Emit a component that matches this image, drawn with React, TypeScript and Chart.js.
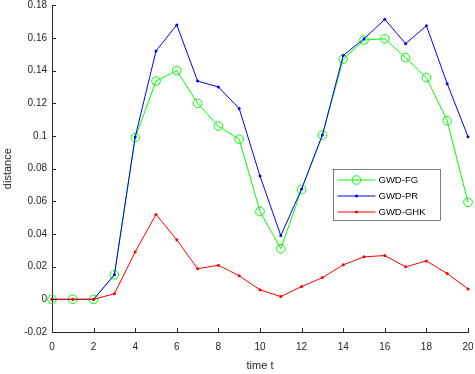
import React, { useEffect, useRef } from 'react';
import { Chart, registerables } from 'chart.js';

Chart.register(...registerables);

// ---- data ----
const timeSteps = [0, 1, 2, 3, 4, 5, 6, 7, 8, 9, 10, 11, 12, 13, 14, 15, 16, 17, 18, 19, 20];
const gwdFG = [0, 0, 0, 0.015, 0.099, 0.1336, 0.140, 0.120, 0.106, 0.098, 0.0537, 0.031, 0.0672, 0.1006, 0.147, 0.1587, 0.1595, 0.148, 0.1357, 0.1094, 0.0594];
const gwdPR = [0, 0, 0, 0.015, 0.0994, 0.152, 0.168, 0.1336, 0.130, 0.1168, 0.0755, 0.039, 0.0676, 0.1006, 0.1493, 0.1595, 0.1714, 0.1565, 0.1675, 0.132, 0.0996];
const gwdGHK = [0, 0, 0, 0.0034, 0.029, 0.052, 0.0364, 0.0187, 0.0209, 0.0144, 0.0058, 0.0017, 0.0078, 0.0133, 0.0211, 0.026, 0.0268, 0.0199, 0.0235, 0.0158, 0.0064];
const seriesLabels = ['GWD-FG', 'GWD-PR', 'GWD-GHK'];
const xTickValues = [0, 2, 4, 6, 8, 10, 12, 14, 16, 18, 20];
const yTickValues = [-0.02, 0, 0.02, 0.04, 0.06, 0.08, 0.1, 0.12, 0.14, 0.16, 0.18];
const xTitle = 'time t';
const yTitle = 'distance';

const AXIS_COLOR = '#262626';
const FONT = '"Liberation Sans", Arial, Helvetica, sans-serif';

const inwardTicks = {
  id: 'inwardTicks',
  afterDraw(chart: any) {
    const { ctx, chartArea } = chart;
    const xs = chart.scales.x;
    const ys = chart.scales.y;
    ctx.save();
    ctx.strokeStyle = AXIS_COLOR;
    ctx.lineWidth = 1;
    ctx.beginPath();
    for (const v of xTickValues) {
      const px = Math.round(xs.getPixelForValue(v)) + 0.5;
      ctx.moveTo(px, chartArea.bottom);
      ctx.lineTo(px, chartArea.bottom - 4);
    }
    for (const v of yTickValues) {
      const py = Math.round(ys.getPixelForValue(v)) + 0.5;
      ctx.moveTo(chartArea.left, py);
      ctx.lineTo(chartArea.left + 4, py);
    }
    ctx.stroke();
    ctx.restore();
  },
};

const boxLegend = {
  id: 'boxLegend',
  afterDraw(chart: any) {
    const { ctx, chartArea } = chart;
    const left = Math.round(chartArea.left + 281) + 0.5;
    const top = Math.round(chartArea.top + 164) + 0.5;
    const w = 107;
    const h = 51;
    ctx.save();
    ctx.fillStyle = '#ffffff';
    ctx.fillRect(left, top, w, h);
    ctx.strokeStyle = '#262626';
    ctx.lineWidth = 0.6;
    ctx.strokeRect(left, top, w, h);
    ctx.font = `9.5px ${FONT}`;
    ctx.textBaseline = 'middle';
    ctx.textAlign = 'left';
    chart.data.datasets.forEach((ds: any, i: number) => {
      const cy = top + 10.5 + i * 16;
      const x1 = left + 4;
      const x2 = left + 42;
      ctx.strokeStyle = ds.borderColor;
      ctx.lineWidth = 1;
      ctx.beginPath();
      ctx.moveTo(x1, cy);
      ctx.lineTo(x2, cy);
      ctx.stroke();
      const mx = (x1 + x2) / 2;
      ctx.beginPath();
      ctx.arc(mx, cy, ds.pointRadius, 0, Math.PI * 2);
      if (ds.pointBackgroundColor === 'transparent') {
        ctx.stroke();
      } else {
        ctx.fillStyle = ds.borderColor;
        ctx.fill();
      }
      ctx.fillStyle = '#000000';
      ctx.fillText(ds.label, left + 45, cy + 0.5);
    });
    ctx.restore();
  },
};

export default function App() {
  const canvasRef = useRef<HTMLCanvasElement | null>(null);

  useEffect(() => {
    if (!canvasRef.current) return;
    const toPts = (arr: number[]) => arr.map((v, i) => ({ x: timeSteps[i], y: v }));
    const chart = new Chart(canvasRef.current, {
      type: 'line',
      data: {
        datasets: [
          {
            label: seriesLabels[0],
            data: toPts(gwdFG),
            borderColor: '#00ff00',
            borderWidth: 1,
            pointRadius: 4.3,
            pointBorderWidth: 1,
            pointBorderColor: '#00ff00',
            pointBackgroundColor: 'transparent',
            pointStyle: 'circle',
            tension: 0,
            order: 3,
            clip: false as any,
          },
          {
            label: seriesLabels[1],
            data: toPts(gwdPR),
            borderColor: '#0000ff',
            borderWidth: 1,
            pointRadius: 1.5,
            pointBorderWidth: 0,
            pointBackgroundColor: '#0000ff',
            pointBorderColor: '#0000ff',
            tension: 0,
            order: 2,
            clip: false as any,
          },
          {
            label: seriesLabels[2],
            data: toPts(gwdGHK),
            borderColor: '#ff0000',
            borderWidth: 1,
            pointRadius: 1.5,
            pointBorderWidth: 0,
            pointBackgroundColor: '#ff0000',
            pointBorderColor: '#ff0000',
            tension: 0,
            order: 1,
            clip: false as any,
          },
        ],
      },
      options: {
        animation: false,
        responsive: false,
        devicePixelRatio: 1,
        layout: { padding: { top: 5, right: 7, left: 0, bottom: 0 } },
        plugins: {
          legend: { display: false },
          tooltip: { enabled: false },
        },
        scales: {
          x: {
            type: 'linear',
            min: 0,
            max: 20,
            afterBuildTicks: (s: any) => {
              s.ticks = xTickValues.map((v) => ({ value: v }));
            },
            afterFit: (s: any) => {
              s.height = 42;
              s.paddingLeft = 0;
              s.paddingRight = 0;
            },
            grid: { display: true, drawOnChartArea: false, drawTicks: false },
            border: { display: true, color: AXIS_COLOR, width: 1 },
            ticks: {
              padding: 9,
              color: AXIS_COLOR,
              font: { family: FONT, size: 10 },
              maxRotation: 0,
              autoSkip: false,
              callback: (v: any) => String(Math.round(Number(v) * 1000) / 1000),
            },
            title: {
              display: true,
              text: xTitle,
              color: AXIS_COLOR,
              font: { family: FONT, size: 11 },
              padding: { top: 0, bottom: 1 },
            },
          },
          y: {
            type: 'linear',
            min: -0.02,
            max: 0.18,
            afterBuildTicks: (s: any) => {
              s.ticks = yTickValues.map((v) => ({ value: v }));
            },
            afterFit: (s: any) => {
              s.width = 52;
              s.paddingTop = 0;
              s.paddingBottom = 0;
            },
            grid: { display: true, drawOnChartArea: false, drawTicks: false },
            border: { display: true, color: AXIS_COLOR, width: 1 },
            ticks: {
              padding: 5,
              color: AXIS_COLOR,
              font: { family: FONT, size: 10 },
              autoSkip: false,
              callback: (v: any) => String(Math.round(Number(v) * 1000) / 1000),
            },
            title: {
              display: true,
              text: yTitle,
              color: AXIS_COLOR,
              font: { family: FONT, size: 11 },
              padding: { top: 1, bottom: 0 },
            },
          },
        },
      },
      plugins: [inwardTicks, boxLegend],
    });
    return () => chart.destroy();
  }, []);

  return (
    <div style={{ position: 'fixed', left: 0, top: 0, width: 475, height: 374, background: '#ffffff' }}>
      <canvas ref={canvasRef} width={475} height={374} style={{ width: 475, height: 374, display: 'block' }} />
    </div>
  );
}
